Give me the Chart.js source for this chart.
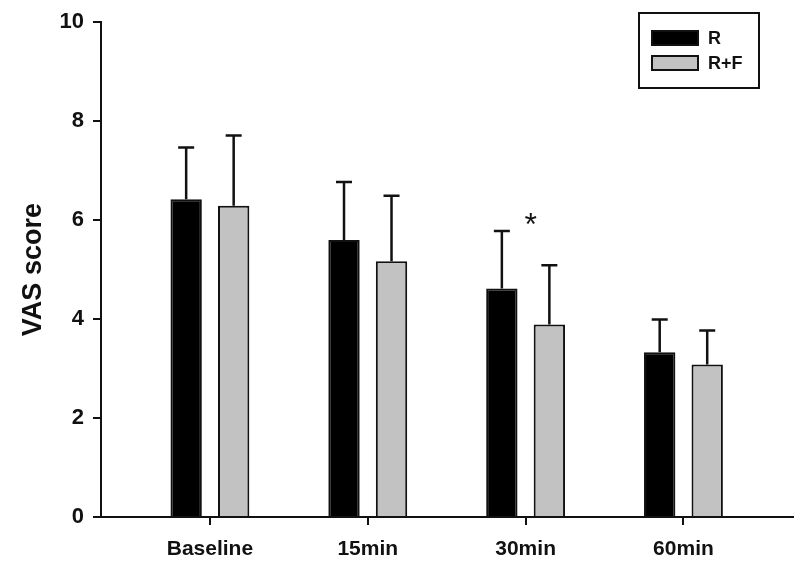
<!DOCTYPE html>
<html>
<head>
<meta charset="utf-8">
<script src="https://cdn.jsdelivr.net/npm/chart.js@4.4.0/dist/chart.umd.min.js"></script>
<style>
  html,body{margin:0;padding:0;background:#fff}
  canvas{display:block}
</style>
</head>
<body>
<canvas id="vasChart" width="800" height="569"></canvas>
<script>
// ── Data ──
const timePoints = ['Baseline', '15min', '30min', '60min'];
const rMean  = [6.42, 5.60, 4.62, 3.33];
const rSD    = [1.05, 1.17, 1.16, 0.66];
const rfMean = [6.29, 5.17, 3.89, 3.08];
const rfSD   = [1.42, 1.32, 1.20, 0.69];
const yTicks = [0, 2, 4, 6, 8, 10];
const sigMarks = [{index: 2, value: 6.0, text: '*'}];

const FONT = "'Liberation Sans', Arial, sans-serif";
const INK = '#111';

// ── Error bars (upper only, with cap) ──
const errorBars = {
  id: 'errorBars',
  afterDatasetsDraw(chart) {
    const {ctx, scales: {y}} = chart;
    ctx.save();
    ctx.strokeStyle = INK;
    ctx.lineWidth = 2.5;
    chart.data.datasets.forEach((ds, di) => {
      chart.getDatasetMeta(di).data.forEach((bar, i) => {
        const top = y.getPixelForValue(ds.data[i].y + ds.sd[i]);
        ctx.beginPath();
        ctx.moveTo(bar.x, bar.y);
        ctx.lineTo(bar.x, top);
        ctx.moveTo(bar.x - 8, top);
        ctx.lineTo(bar.x + 8, top);
        ctx.stroke();
      });
    });
    ctx.restore();
  }
};

// ── Significance asterisk ──
const sigPlugin = {
  id: 'sig',
  afterDatasetsDraw(chart) {
    const {ctx, scales: {x, y}} = chart;
    ctx.save();
    ctx.fillStyle = INK;
    ctx.font = `32px ${FONT}`;
    ctx.textAlign = 'center';
    ctx.textBaseline = 'middle';
    sigMarks.forEach(m => {
      ctx.fillText(m.text, x.getPixelForValue(m.index) + 5, y.getPixelForValue(m.value) + 6);
    });
    ctx.restore();
  }
};

// ── Framed legend, top right ──
const boxLegend = {
  id: 'boxLegend',
  afterDraw(chart) {
    const {ctx} = chart;
    ctx.save();
    ctx.strokeStyle = INK;
    ctx.lineWidth = 2;
    ctx.strokeRect(639, 13, 120, 75);
    ctx.font = `bold 18px ${FONT}`;
    ctx.textBaseline = 'middle';
    chart.data.datasets.forEach((ds, i) => {
      const yy = 31 + i * 25;
      ctx.fillStyle = ds.backgroundColor;
      ctx.fillRect(652, yy, 46, 14);
      ctx.lineWidth = 2;
      ctx.strokeRect(652, yy, 46, 14);
      ctx.fillStyle = INK;
      ctx.fillText(ds.label, 708, yy + 8);
    });
    ctx.restore();
  }
};

const toPoints = arr => arr.map((v, i) => ({x: i, y: v}));

new Chart(document.getElementById('vasChart'), {
  type: 'bar',
  data: {
    datasets: [
      {label: 'R', data: toPoints(rMean), sd: rSD, backgroundColor: '#000', borderColor: INK, borderWidth: 2},
      {label: 'R+F', data: toPoints(rfMean), sd: rfSD, backgroundColor: '#c2c2c2', borderColor: INK, borderWidth: 2},
    ]
  },
  options: {
    responsive: false,
    animation: false,
    categoryPercentage: 0.602,
    barPercentage: 0.66,
    layout: {padding: {top: 14, right: 7, bottom: 0, left: 0}},
    plugins: {legend: {display: false}, tooltip: {enabled: false}},
    scales: {
      x: {
        type: 'linear', min: -0.69, max: 3.694, offset: false,
        afterBuildTicks: s => { s.ticks = timePoints.map((_, i) => ({value: i})); },
        afterFit: s => { s.height = 52; },
        ticks: {callback: v => timePoints[v], autoSkip: false, maxRotation: 0, padding: 12,
          color: INK, font: {family: FONT, size: 21, weight: 'bold'}},
        grid: {display: true, drawOnChartArea: false, offset: false, tickLength: 8, color: INK, lineWidth: 2},
        border: {color: INK, width: 2}
      },
      y: {
        min: 0, max: 10,
        afterBuildTicks: s => { s.ticks = yTicks.map(v => ({value: v})); },
        afterFit: s => { s.width = 101; },
        ticks: {padding: 9, color: INK, font: {family: FONT, size: 22, weight: 'bold'}},
        grid: {display: true, drawOnChartArea: false, tickLength: 8, color: INK, lineWidth: 2},
        border: {color: INK, width: 2},
        title: {display: true, text: 'VAS score', color: INK, padding: {top: 17, bottom: 0},
          font: {family: FONT, size: 27, weight: 'bold'}}
      }
    }
  },
  plugins: [errorBars, sigPlugin, boxLegend]
});
</script>
</body>
</html>
